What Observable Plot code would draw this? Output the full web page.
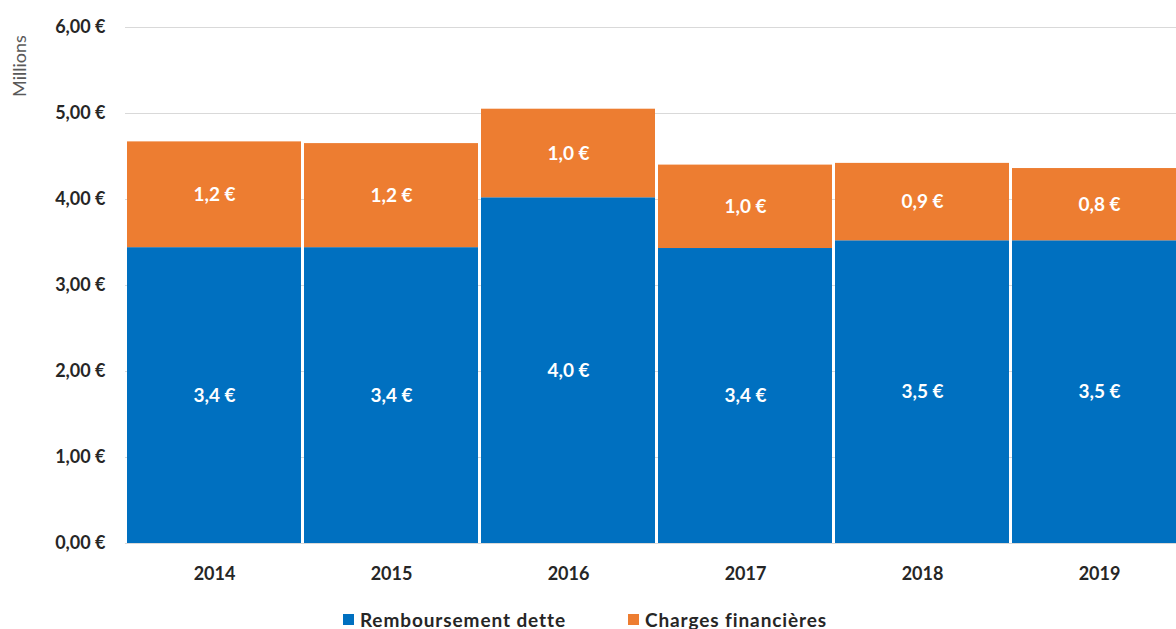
<!DOCTYPE html>
<html>
<head>
<meta charset="utf-8">
<script src="https://cdn.jsdelivr.net/npm/d3@7"></script>
<script src="https://cdn.jsdelivr.net/npm/@observablehq/plot@0.6"></script>
<style>
  html, body { margin: 0; padding: 0; background: #fff; overflow: hidden; width: 1176px; height: 629px; }
  #chart svg { display: block; overflow: hidden; }
  #legend { display: flex; justify-content: center; align-items: center; gap: 62px; padding-top: 5px;
            font-family: Lato, sans-serif; font-weight: bold; font-size: 19px; line-height: 19px; letter-spacing: 0.9px;
            color: #262626; margin-left: -6px; }
  #legend .item { display: flex; align-items: center; gap: 6px; }
  #legend .sw { width: 11px; height: 11px; display: inline-block; }
</style>
</head>
<body>
<div id="chart"></div>
<div id="legend"></div>
<script>
const years = ["2014", "2015", "2016", "2017", "2018", "2019"];
const remboursement = [3.44, 3.44, 4.02, 3.43, 3.52, 3.52];
const charges = [1.23, 1.21, 1.03, 0.97, 0.90, 0.84];
const seriesNames = ["Remboursement dette", "Charges financières"];
const seriesColors = ["#0070C0", "#ED7D31"];
const yTicks = [0, 1, 2, 3, 4, 5, 6];
const axisTitle = "Millions";

const seriesValues = [remboursement, charges];
const rows = [];
seriesNames.forEach((s, i) => years.forEach((y, j) => rows.push({year: y, serie: s, value: seriesValues[i][j]})));

const fmt1 = v => d3.format(".1f")(v).replace(".", ",") + " €";
const fmt2 = v => d3.format(".2f")(v).replace(".", ",") + " €";

const chart = Plot.plot({
  width: 1176,
  height: 605,
  marginLeft: 125,
  marginRight: 0,
  marginTop: 27,
  marginBottom: 62,
  style: {fontFamily: "Lato, sans-serif", background: "#fff", color: "#262626"},
  x: {domain: years, range: [125, 1189], paddingInner: 0.015, paddingOuter: 0, label: null},
  y: {domain: [0, 6], label: null},
  color: {domain: seriesNames, range: seriesColors},
  marks: [
    Plot.ruleY(yTicks, {stroke: "#d9d9d9", strokeWidth: 1}),
    Plot.barY(rows, {x: "year", y: "value", fill: "serie"}),
    Plot.text(rows, Plot.stackY({x: "year", y: "value", z: "serie", text: d => fmt1(d.value),
      fill: "white", fontWeight: "bold", fontSize: 19})),
    Plot.axisY({ticks: yTicks, tickFormat: fmt2, tickSize: 0, tickPadding: 20, fontSize: 18, fontWeight: "bold", label: null}),
    Plot.axisX({tickSize: 0, tickPadding: 24, fontSize: 18, fontWeight: "bold", label: null})
  ]
});
document.getElementById("chart").appendChild(chart);

d3.select(chart).append("text")
  .attr("transform", "translate(26,66) rotate(-90)")
  .attr("text-anchor", "middle")
  .attr("font-family", "Lato, sans-serif")
  .attr("font-size", 18)
  .attr("fill", "#595959")
  .text(axisTitle);

const legend = d3.select("#legend");
seriesNames.forEach((s, i) => {
  const it = legend.append("div").attr("class", "item");
  it.append("span").attr("class", "sw").style("background", seriesColors[i]);
  it.append("span").text(s);
});
</script>
</body>
</html>
